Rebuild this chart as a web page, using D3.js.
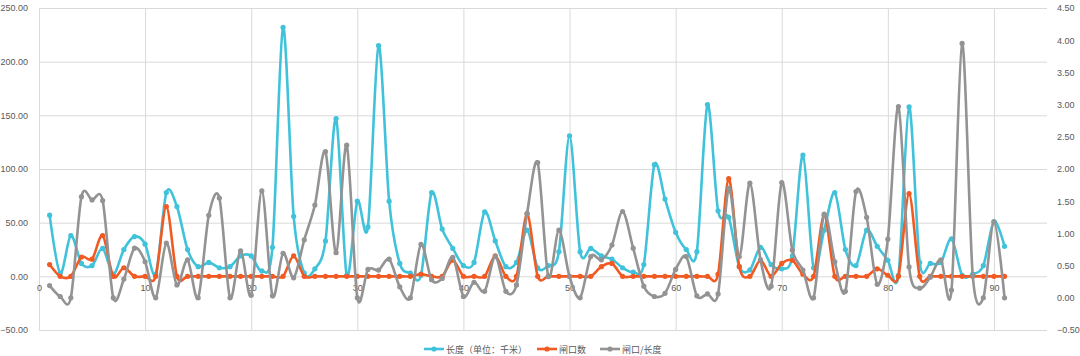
<!DOCTYPE html>
<html>
<head>
<meta charset="utf-8">
<script src="https://cdn.jsdelivr.net/npm/d3@7"></script>
<style>
  html, body { margin: 0; padding: 0; background: #ffffff; }
  svg { display: block; }
  text { font-family: "Liberation Sans", Arial, sans-serif; fill: #595959; }
</style>
</head>
<body>
<svg id="chart" width="1080" height="356"></svg>
<script>
// ---- data ----
const seriesNames = ["长度（单位：千米）", "闸口数", "闸口/长度"];
const lengthKm = [57, 3, 38, 12, 10, 26, 2, 25, 37, 30,
  2, 78, 65, 25, 9, 13, 8, 9, 19, 19,
  5, 27, 232, 56, 3, 7, 33, 147, 1, 70,
  46, 215, 70, 12, 3, 1, 78, 44, 26, 10,
  13, 60, 33, 9, 13, 43, 8, 10, 23, 131,
  23, 26, 19, 16, 8, 4, 11, 104, 72, 41,
  25, 23, 160, 61, 55, 9, 6, 27, 11, 7,
  19, 113, 8, 43, 78, 25, 10, 43, 28, 15,
  1, 158, 13, 12, 13, 35, 1, 2, 10, 51,
  28];
const gateCount = [11, 0, 0, 18, 16, 38, 0, 8, 0, 0,
  0, 65, 0, 0, 0, 0, 0, 0, 0, 0,
  0, 0, 0, 19, 0, 0, 0, 0, 0, 0,
  0, 0, 0, 0, 0, 2, 0, 0, 15, 0,
  0, 0, 19, 0, 0, 58, 0, 0, 0, 0,
  0, 0, 9, 12, 0, 0, 0, 0, 0, 0,
  0, 0, 0, 2, 91, 9, 0, 15, 0, 12,
  15, 2, 0, 57, 0, 0, 0, 0, 7, 1,
  0, 77, 0, 0, 0, 0, 0, 0, 0, 0,
  0];
const gatePerLength = [0.19, 0.02, 0, 1.57, 1.52, 1.51, 0, 0.29, 0.77, 0.56,
  0, 0.85, 0.2, 0.59, 0, 1.28, 1.55, 0, 0.73, 0.04,
  1.66, 0.03, 0.69, 0.31, 0.9, 1.44, 2.27, 0.7, 2.37, 0,
  0.44, 0.43, 0.6, 0.17, 0, 0.83, 0.28, 0.3, 0.63, 0.02,
  0.24, 0.1, 0.64, 0.1, 0.2, 1.31, 2.1, 0.33, 1.05, 0.33,
  0, 0.64, 0.59, 0.82, 1.34, 0.77, 0.18, 0.02, 0.07, 0.44,
  0.64, 0.03, 0.06, 0.06, 1.7, 0.64, 1.78, 0.59, 0.18, 1.79,
  0.74, 0.43, 0, 1.3, 0.56, 0.1, 1.65, 1.25, 0.21, 0.91,
  2.97, 0.48, 0.15, 0.32, 0.59, 0.12, 3.95, 0.35, 0, 1.18,
  0];
const xTicks = [0, 10, 20, 30, 40, 50, 60, 70, 80, 90];
const leftTicks = [-50, 0, 50, 100, 150, 200, 250];
const rightTicks = [-0.5, 0, 0.5, 1, 1.5, 2, 2.5, 3, 3.5, 4, 4.5];

// ---- layout ----
const colors = ["#40c2da", "#f15a22", "#939393"];
const svg = d3.select("#chart");
const plotL = 39, plotR = 1047, plotT = 8, plotB = 330;

const x = d3.scaleLinear().domain([0, 95]).range([plotL, plotR]);
const yL = d3.scaleLinear().domain([-50, 250]).range([plotB, plotT]);
const yR = d3.scaleLinear().domain([-0.5, 4.5]).range([plotB, plotT]);

// gridlines
svg.append("g")
  .attr("transform", `translate(${plotL},0)`)
  .call(d3.axisLeft(yL).tickValues(leftTicks).tickSize(-(plotR - plotL)).tickFormat(""))
  .call(g => g.select(".domain").remove())
  .call(g => g.selectAll("line").attr("stroke", "#d9d9d9").attr("stroke-width", 1));
svg.append("g")
  .attr("transform", `translate(0,${plotB})`)
  .call(d3.axisBottom(x).tickValues(xTicks).tickSize(-(plotB - plotT)).tickFormat(""))
  .call(g => g.select(".domain").remove())
  .call(g => g.selectAll("line").attr("stroke", "#d9d9d9").attr("stroke-width", 1));

// left axis labels
svg.append("g")
  .attr("transform", `translate(31,0)`)
  .call(d3.axisLeft(yL).tickValues(leftTicks).tickSize(0).tickPadding(3).tickFormat(d3.format(".2f")))
  .call(g => g.select(".domain").remove())
  .call(g => g.selectAll("text").style("font-size", "9px").attr("fill", "#595959"));

// right axis labels
svg.append("g")
  .attr("transform", `translate(1054,0)`)
  .call(d3.axisRight(yR).tickValues(rightTicks).tickSize(0).tickPadding(3).tickFormat(d3.format(".2f")))
  .call(g => g.select(".domain").remove())
  .call(g => g.selectAll("text").style("font-size", "9px").attr("fill", "#595959"));

// x axis labels (crossing at 0)
svg.append("g")
  .attr("transform", `translate(0,${yL(0)})`)
  .call(d3.axisBottom(x).tickValues(xTicks).tickSize(0).tickPadding(8).tickFormat(d3.format("d")))
  .call(g => g.select(".domain").remove())
  .call(g => g.selectAll("text").style("font-size", "9px").attr("fill", "#595959"));

// series
const series = [
  { values: lengthKm, y: yL, color: colors[0] },
  { values: gateCount, y: yL, color: colors[1] },
  { values: gatePerLength, y: yR, color: colors[2] }
];
series.forEach(s => {
  const pts = s.values.map((v, i) => [i + 1, v]);
  const line = d3.line().x(d => x(d[0])).y(d => s.y(d[1])).curve(d3.curveCardinal.tension(0.1));
  svg.append("path").datum(pts)
    .attr("d", line).attr("fill", "none")
    .attr("stroke", s.color).attr("stroke-width", 2.6)
    .attr("stroke-linejoin", "round").attr("stroke-linecap", "round");
  svg.append("g").selectAll("circle").data(pts).join("circle")
    .attr("cx", d => x(d[0])).attr("cy", d => s.y(d[1]))
    .attr("r", 2.6).attr("fill", s.color);
});

// legend
const legendItems = [
  { name: seriesNames[0], x: 424, color: colors[0] },
  { name: seriesNames[1], x: 537, color: colors[1] },
  { name: seriesNames[2], x: 600, color: colors[2] }
];
const lg = svg.append("g");
legendItems.forEach(it => {
  lg.append("line").attr("x1", it.x).attr("x2", it.x + 20).attr("y1", 349).attr("y2", 349)
    .attr("stroke", it.color).attr("stroke-width", 2.6);
  lg.append("circle").attr("cx", it.x + 10).attr("cy", 349).attr("r", 2.6).attr("fill", it.color);
  lg.append("text").attr("x", it.x + 22).attr("y", 352.5)
    .style("font-size", "9px")
    .style("font-family", "'Noto Sans CJK SC', sans-serif")
    .attr("fill", "#595959").text(it.name);
});
</script>
</body>
</html>
